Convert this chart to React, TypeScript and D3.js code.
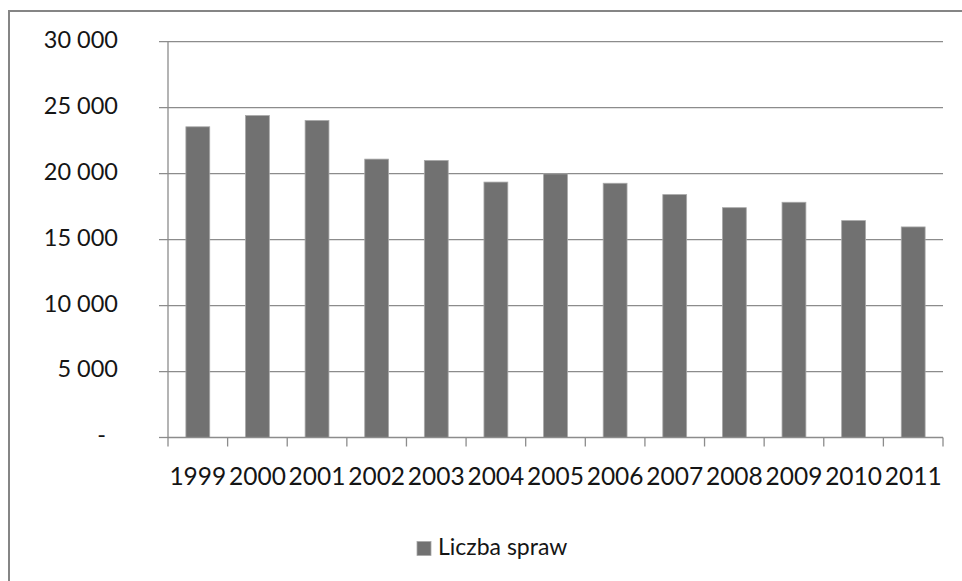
import React from 'react';
import * as d3 from 'd3';

const years = ['1999', '2000', '2001', '2002', '2003', '2004', '2005', '2006', '2007', '2008', '2009', '2010', '2011'];
const cases = [23550, 24400, 24030, 21100, 21000, 19360, 19980, 19270, 18410, 17420, 17830, 16440, 15960];
const yTicks = [0, 5000, 10000, 15000, 20000, 25000, 30000];
const seriesName = 'Liczba spraw';

const WIDTH = 962;
const HEIGHT = 581;
const LEFT = 168;
const RIGHT = 943;
const TOP = 41.7;
const BOTTOM = 437.5;
const FONT = 'Lato, "Open Sans", sans-serif';
const BAR = '#717171';
const GRID = '#8c8c8c';

const fmt = (v: number) => (v === 0 ? '-' : d3.format(',')(v).replace(/,/g, ' '));

const App: React.FC = () => {
  const x = d3.scaleBand<string>().domain(years).range([LEFT, RIGHT]).paddingInner(0.6).paddingOuter(0.3);
  const xEdges = d3.scaleBand<string>().domain(years).range([LEFT, RIGHT]);
  const y = d3.scaleLinear().domain([0, 30000]).range([BOTTOM, TOP]);

  return (
    <div style={{ position: 'fixed', left: 0, top: 0 }}>
      <svg width={WIDTH} height={HEIGHT} style={{ display: 'block', background: '#fff' }}>
        <rect x={9} y={11} width={WIDTH + 10} height={HEIGHT + 10} fill="none" stroke="#858585" strokeWidth={2} />

        {yTicks.map(t => (
          <g key={t}>
            <line x1={LEFT - 9} x2={t === 0 ? LEFT : RIGHT} y1={y(t)} y2={y(t)} stroke={GRID} strokeWidth={1.3} />
            <text
              x={t === 0 ? 106 : 118}
              y={y(t)}
              textAnchor="end"
              dominantBaseline="middle"
              fontFamily={FONT}
              fontSize={23.5}
              fill="#151515"
            >
              {fmt(t)}
            </text>
          </g>
        ))}

        {cases.map((v, i) => (
          <rect
            key={years[i]}
            x={x(years[i])}
            y={y(v)}
            width={x.bandwidth()}
            height={BOTTOM - y(v)}
            fill={BAR}
            stroke="#a8a8a8"
            strokeWidth={0.8}
          />
        ))}

        <line x1={LEFT} x2={LEFT} y1={TOP} y2={BOTTOM} stroke={GRID} strokeWidth={1.3} />
        <line x1={LEFT} x2={RIGHT} y1={BOTTOM} y2={BOTTOM} stroke={GRID} strokeWidth={1.3} />
        {years.map(yr => (
          <line key={yr} x1={xEdges(yr)} x2={xEdges(yr)} y1={BOTTOM} y2={BOTTOM + 9} stroke={GRID} strokeWidth={1.3} />
        ))}
        <line x1={RIGHT} x2={RIGHT} y1={BOTTOM} y2={BOTTOM + 9} stroke={GRID} strokeWidth={1.3} />

        {years.map(yr => (
          <text
            key={yr}
            x={(xEdges(yr) ?? 0) + xEdges.bandwidth() / 2}
            y={479}
            textAnchor="middle"
            dominantBaseline="middle"
            fontFamily={FONT}
            fontSize={24.5}
            fill="#151515"
          >
            {yr}
          </text>
        ))}

        <rect x={417} y={541.5} width={14} height={14} fill={BAR} stroke="#a8a8a8" strokeWidth={0.8} />
        <text x={438} y={549} dominantBaseline="middle" fontFamily={FONT} fontSize={23} fill="#151515">
          {seriesName}
        </text>
      </svg>
    </div>
  );
};

export default App;
